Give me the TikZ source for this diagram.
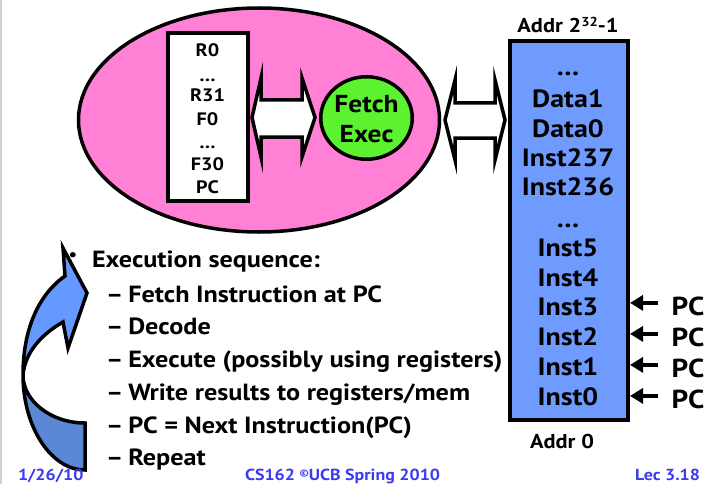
\documentclass[tikz,border=0pt]{standalone}
\usepackage{fontspec}
\setmainfont{PT Sans}[FakeStretch=1.12]
\usetikzlibrary{arrows.meta,shapes.geometric}
\definecolor{pinkfill}{HTML}{FF80D4}
\definecolor{greenfill}{HTML}{5CF230}
\definecolor{memblue}{HTML}{6F9BFF}
\definecolor{arrlight}{HTML}{6699FF}
\definecolor{arrdark}{HTML}{5B88D6}
\definecolor{footblue}{HTML}{3A3AF0}
\newcommand{\itemdash}{–\kern5pt}
\begin{document}
\begin{tikzpicture}[x=1pt,y=-1pt,
  txt/.style={inner sep=0pt, outer sep=0pt, font=\bfseries\fontsize{#1}{#1}\selectfont},
  memtxt/.style={txt=25, anchor=base},
  regtxt/.style={txt=18, anchor=base},
  bul/.style={txt=23.4, anchor=base west},
  foot/.style={txt=16, text=footblue, anchor=base west},
  pclbl/.style={txt=26, anchor=base},
  dblarrow/.style={draw, fill=white, line width=3.5pt, line join=miter},
  curvarr/.style={draw, line width=3.5pt, line join=miter},
  pcarr/.style={line width=4pt, -{Triangle[length=13pt,width=15pt]}}]
\useasboundingbox (0,0) rectangle (711,484);
\draw[gray!35, line width=1.5pt] (1,0) -- (1,484);

% CPU
\node[ellipse, draw, fill=pinkfill, line width=3.5pt, minimum width=361pt, minimum height=224pt, inner sep=0pt] (cpu) at (259,120) {};
\node[draw, fill=white, line width=4pt, minimum width=80pt, minimum height=167pt, inner sep=0pt] (regs) at (207.5,117) {};
\node[regtxt] (r0) at (207.5,57) {R0};
\node[regtxt] (rd1) at (207.5,82) {…};
\node[regtxt] (r31) at (207.5,102) {R31};
\node[regtxt] (f0) at (207.5,125) {F0};
\node[regtxt] (rd2) at (207.5,148) {…};
\node[regtxt] (f30) at (207.5,170) {F30};
\node[regtxt] (pcr) at (207.5,193) {PC};
\node[ellipse, draw, fill=greenfill, line width=3.5pt, minimum width=91.5pt, minimum height=82.5pt, inner sep=0pt] (fe) at (366.5,118) {};
\node[txt=24.5, anchor=base] (fetch) at (366.5,113) {Fetch};
\node[txt=24.5, anchor=base] (exec) at (366.5,142) {Exec};

% double arrows
\draw[dblarrow] (252,117.5) -- (261,78) -- (261,100) -- (302,100) -- (302,78) -- (315,117.5)
  -- (302,157) -- (302,137) -- (261,137) -- (261,157) -- cycle;
\draw[dblarrow] (445,120) -- (455,80) -- (455,103) -- (495,103) -- (495,80) -- (505,120)
  -- (495,160) -- (495,138) -- (455,138) -- (455,160) -- cycle;

% memory
\node[draw, fill=memblue, line width=4pt, minimum width=118pt, minimum height=379pt, inner sep=0pt] (mem) at (569,230.5) {};
\node[txt=20, anchor=base] (atop) at (568,33) {Addr 2\raisebox{6pt}{\fontsize{13}{13}\selectfont 32}-1};
\node[txt=20, anchor=base] (abot) at (562,448) {Addr 0};
\node[memtxt] (m1) at (568,76) {…};
\node[memtxt] (m2) at (568,107) {Data1};
\node[memtxt] (m3) at (568,137) {Data0};
\node[memtxt] (m4) at (568,166) {Inst237};
\node[memtxt] (m5) at (568,195) {Inst236};
\node[memtxt] (m6) at (568,227) {…};
\node[memtxt] (m7) at (568,256) {Inst5};
\node[memtxt] (m8) at (568,286) {Inst4};
\node[memtxt] (i3) at (568,315) {Inst3};
\node[memtxt] (i2) at (568,345) {Inst2};
\node[memtxt] (i1) at (568,375) {Inst1};
\node[memtxt] (i0) at (568,405) {Inst0};

% PC pointers
\node[pclbl] (pc3) at (688,315) {PC};
\node[pclbl] (pc2) at (688,346) {PC};
\node[pclbl] (pc1) at (688,377) {PC};
\node[pclbl] (pc0) at (688,408) {PC};
\foreach \p in {pc3,pc2,pc1,pc0}{
  \draw[pcarr] ([xshift=-14pt,yshift=3pt]\p.west) -- ([yshift=3pt]\p.west -| mem.east);
}

% curved arrow
\path[curvarr, fill=arrdark] (85,423) -- (85,470) .. controls (51,470) and (23,427) .. (23,375)
  .. controls (23,401) and (51,423) .. (85,423) -- cycle;
\path[curvarr, fill=arrlight] (23,375) .. controls (23,330) and (38,295) .. (65,276)
  -- (63,248) -- (87,293) -- (68,348) -- (63,322)
  .. controls (42,334) and (25,352) .. (23,375) -- cycle;

% text
\node[txt=17, anchor=center] (dot) at (73,257) {•};
\node[bul] (h) at (92,267) {Execution sequence:};
\node[bul] (s1) at (106,302) {\itemdash Fetch Instruction at PC};
\node[bul] (s2) at (106,334) {\itemdash Decode};
\node[bul] (s3) at (106,367) {\itemdash Execute (possibly using registers)};
\node[bul] (s4) at (106,400) {\itemdash Write results to registers/mem};
\node[bul] (s5) at (106,433) {\itemdash PC = Next Instruction(PC)};
\node[bul] (s6) at (106,465) {\itemdash Repeat};

% footer
\node[foot] (date) at (18,480) {1/26/10};
\node[foot] (course) at (245,480) {CS162 \raisebox{4pt}{\fontsize{10}{10}\selectfont ©}UCB Spring 2010};
\node[foot, anchor=base east] (lec) at (700,480) {Lec 3.18};
\end{tikzpicture}
\end{document}
